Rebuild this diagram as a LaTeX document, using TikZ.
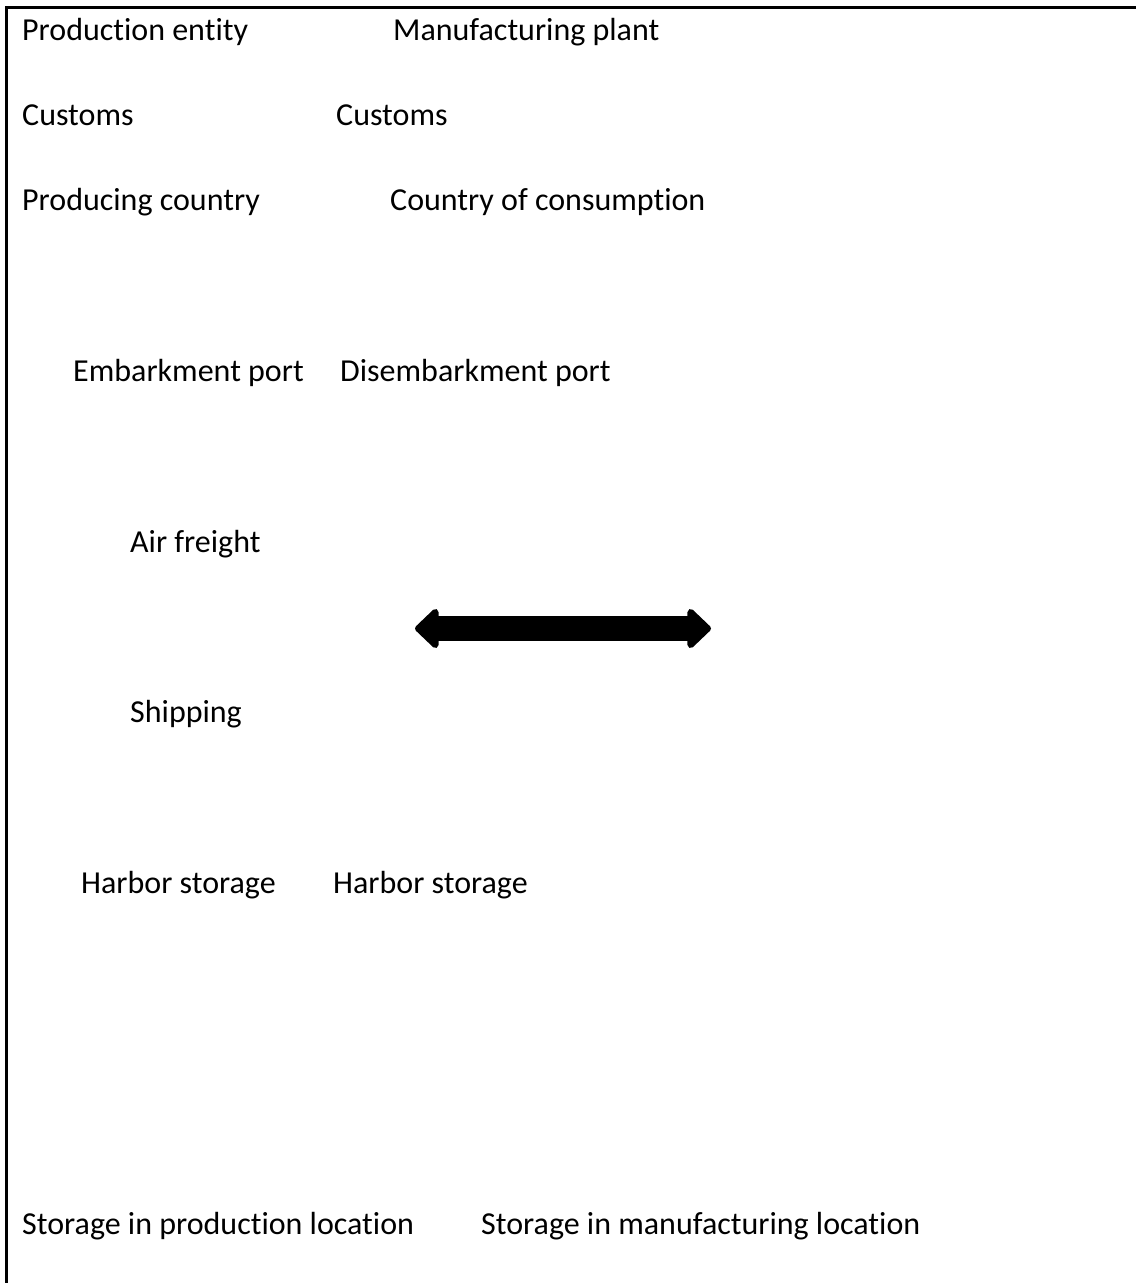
\documentclass[tikz,border=0pt]{standalone}
\usepackage{fontspec}
\setmainfont{Carlito}[Ligatures={NoCommon,NoRequired,NoContextual}]
\usetikzlibrary{arrows.meta}
\tikzset{
  lbl/.style={anchor=base west, inner sep=0pt, font=\fontsize{32}{38}\selectfont},
  frame/.style={line width=2.5pt},
  bigarrow/.style={line width=25pt, {Triangle[length=25pt,width=46pt,round]}-{Triangle[length=25pt,width=46pt,round]}}
}
\begin{document}
\begin{tikzpicture}[x=1pt,y=-1pt]
	 \useasboundingbox (0,0) rectangle (1136,1283);
	 \draw[frame] (6.5,1283) -- (6.5,7.5) -- (1136,7.5);

	 \node[lbl] (P1) at (22,40)   {Production entity};
	 \node[lbl] (M1) at (393,40)  {Manufacturing plant};
	 \node[lbl] (P2) at (22,125)  {Customs};
	 \node[lbl] (M2) at (336,125) {Customs};
	 \node[lbl] (P3) at (22,210)  {Producing country};
	 \node[lbl] (M3) at (390,210) {Country of consumption};
	 \node[lbl] (P4) at (73,381)  {Embarkment port};
	 \node[lbl] (M4) at (340,381) {Disembarkment port};
	 \node[lbl] (T1) at (130,552) {Air freight};
	 \node[lbl] (T2) at (130,722) {Shipping};
	 \node[lbl] (P5) at (81,893)  {Harbor storage};
	 \node[lbl] (M5) at (333,893) {Harbor storage};
	 \node[lbl] (P6) at (22,1234) {Storage in production location};
	 \node[lbl] (M6) at (481,1234) {Storage in manufacturing location};

	 \coordinate (L) at (415,628.5);
	 \coordinate (R) at (711,628.5);
	 \draw[bigarrow] (L) -- (R);
	\end{tikzpicture}
\end{document}
